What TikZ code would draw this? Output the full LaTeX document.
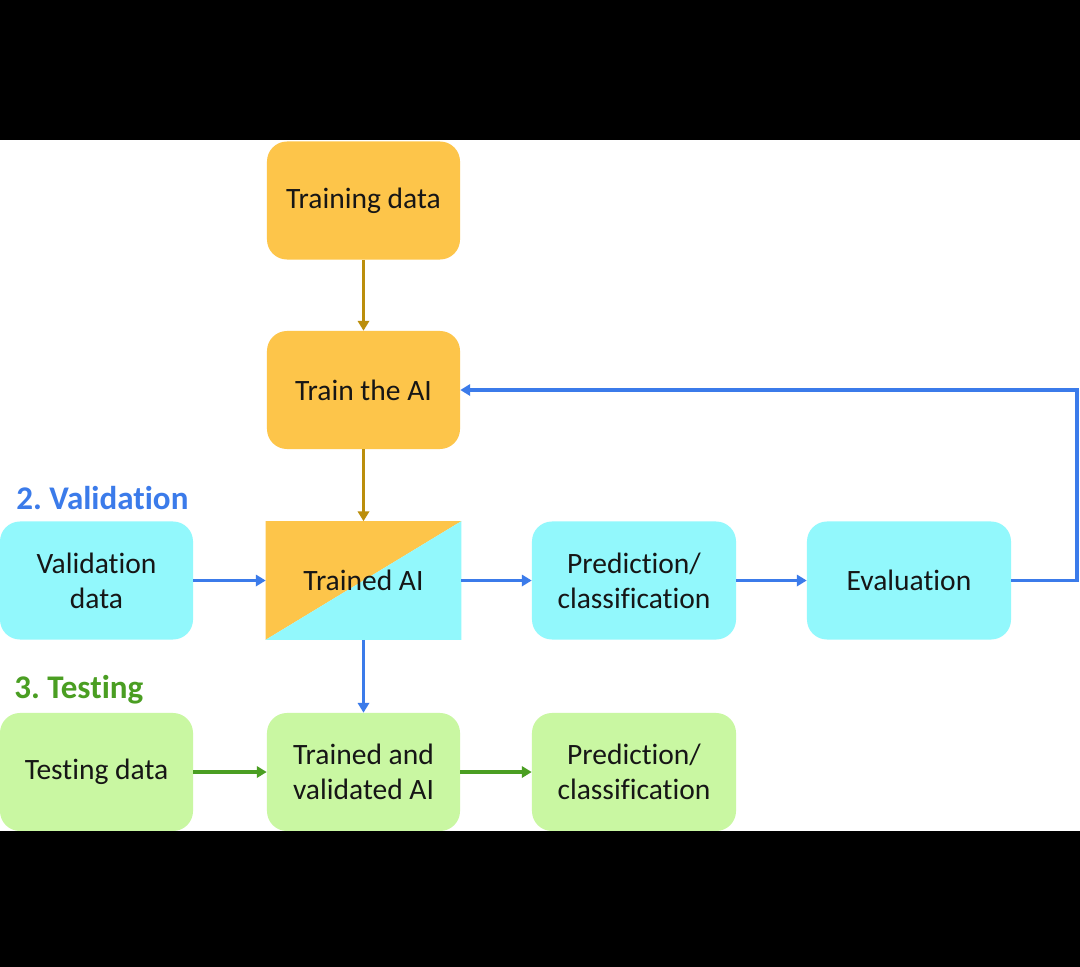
\documentclass[tikz,border=0pt]{standalone}
\usepackage{fontspec}
\setmainfont[Ligatures=NoCommon]{Carlito}
\usetikzlibrary{arrows.meta}
\definecolor{orangebox}{HTML}{FDC54A}
\definecolor{cyanbox}{HTML}{92F8FC}
\definecolor{greenbox}{HTML}{C9F7A2}
\definecolor{goldarrow}{HTML}{BB8E0C}
\definecolor{bluearrow}{HTML}{3B7BEA}
\definecolor{greenarrow}{HTML}{4A9E22}
\definecolor{txt}{HTML}{161616}
\frenchspacing
\tikzset{
  box/.style={rectangle, rounded corners=0.5cm, minimum width=4.825cm, minimum height=2.95cm, align=center, font=\fontsize{21}{25}\selectfont, text=txt, inner sep=0pt},
  wbox/.style={box, minimum width=5.1cm},
  obox/.style={box, fill=orangebox},
  cbox/.style={box, fill=cyanbox},
  gbox/.style={box, fill=greenbox},
  conn/.style={line width=2.4pt, -{Triangle[length=7pt,width=8pt]}},
  goldc/.style={conn, draw=goldarrow},
  bluec/.style={conn, draw=bluearrow},
  greenc/.style={conn, draw=greenarrow},
  sect/.style={font=\fontsize{23.5}{28}\selectfont\bfseries, anchor=west, inner sep=0pt}
}
\begin{document}
\begin{tikzpicture}[x=0.025cm, y=-0.025cm]
\fill[black] (0,0) rectangle (1080,967);
\fill[white] (0,140) rectangle (1080,831);
\useasboundingbox (0,0) rectangle (1080,967);

% top column
\node[obox] (tdata) at (363.5,200.5) {Training data};
\node[obox] (train) at (363.5,390) {Train the AI};
\node[box, minimum width=4.875cm] (tai) at (363.5,580.5) {};
\fill[orangebox] (tai.south west) -- (tai.north west) -- (tai.north east) -- cycle;
\fill[cyanbox] (tai.south west) -- (tai.north east) -- (tai.south east) -- cycle;
\node[box] (taitext) at (tai.center) {Trained AI};

% validation row
\node[sect, text=bluearrow] (vlabel) at (16,498) {2. Validation};
\node[cbox] (vdata) at (96.5,580.5) {Validation\\data};
\node[wbox, fill=cyanbox] (vpred) at (634,580.5) {Prediction/\\classification};
\node[wbox, fill=cyanbox] (eval) at (909,580.5) {Evaluation};

% testing row
\node[sect, text=greenarrow] (tlabel) at (14,690) {3. Testing};
\node[gbox] (testd) at (96.5,772) {Testing data};
\node[gbox] (tvai) at (363.5,772) {Trained and\\validated AI};
\node[wbox, fill=greenbox] (tpred) at (634,772) {Prediction/\\classification};

% bottom bar over boxes
\fill[black] (0,831) rectangle (1080,967);

% connectors
\draw[goldc] (tdata.south) -- (train.north);
\draw[goldc] (train.south) -- (tai.north);
\draw[bluec] (vdata.east) -- (tai.west);
\draw[bluec] (tai.east) -- (vpred.west);
\draw[bluec] (vpred.east) -- (eval.west);
\coordinate (loopc) at (1077,580.5);
\draw[bluec] (eval.east) -- (loopc) |- (train.east);
\draw[bluec] (tai.south) -- (tvai.north);
\draw[greenc] (testd.east) -- (tvai.west);
\draw[greenc] (tvai.east) -- (tpred.west);
\end{tikzpicture}
\end{document}
